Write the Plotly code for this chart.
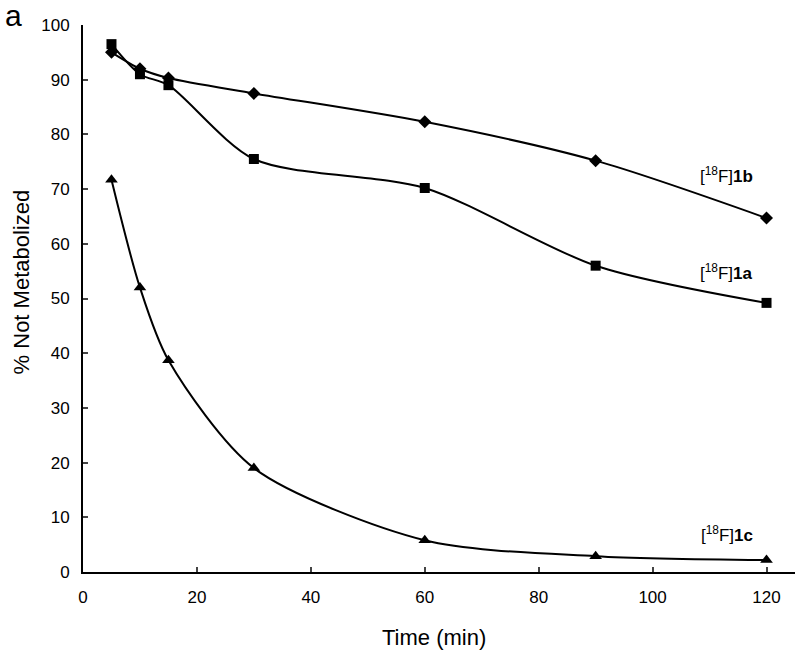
import plotly.graph_objects as go

time = [5, 10, 15, 30, 60, 90, 120]
f1b = [95.0, 92.0, 90.3, 87.5, 82.3, 75.2, 64.7]
f1a = [96.5, 91.0, 89.0, 75.5, 70.2, 56.0, 49.2]
f1c = [71.7, 52.0, 38.7, 19.0, 5.8, 2.9, 2.2]

x_ticks = [0, 20, 40, 60, 80, 100, 120]
y_ticks = [0, 10, 20, 30, 40, 50, 60, 70, 80, 90, 100]

font_family = "Liberation Sans, Arial, sans-serif"

fig = go.Figure()
series = [
    ("[<sup>18</sup>F]<b>1b</b>", f1b, "diamond", 10),
    ("[<sup>18</sup>F]<b>1a</b>", f1a, "square", 10),
    ("[<sup>18</sup>F]<b>1c</b>", f1c, "triangle-up", 11),
]
for name, ys, sym, sz in series:
    fig.add_trace(go.Scatter(
        x=time, y=ys, mode="lines+markers", name=name,
        line=dict(color="black", width=2, shape="spline", smoothing=0.8),
        marker=dict(symbol=sym, size=sz, color="black"),
        showlegend=False,
    ))

labels = [("[<sup>18</sup>F]<b>1b</b>", 72.5), ("[<sup>18</sup>F]<b>1a</b>", 54.8), ("[<sup>18</sup>F]<b>1c</b>", 7.0)]
for txt, yv in labels:
    fig.add_annotation(x=113, y=yv, text=txt, showarrow=False,
                       font=dict(family=font_family, size=17, color="black"))

# panel letter
fig.add_annotation(x=-0.112, y=1.018, xref="paper", yref="paper", xanchor="left", yanchor="middle",
                   text="a", showarrow=False,
                   font=dict(family=font_family, size=30, color="black"))
# axis titles
fig.add_annotation(x=-0.0866, y=0.53, xref="paper", yref="paper", textangle=-90,
                   xanchor="center", yanchor="middle",
                   text="% Not Metabolized", showarrow=False,
                   font=dict(family=font_family, size=22, color="black"))
fig.add_annotation(x=0.493, y=-0.119, xref="paper", yref="paper",
                   xanchor="center", yanchor="middle",
                   text="Time (min)", showarrow=False,
                   font=dict(family=font_family, size=22, color="black"))

fig.update_layout(
    width=800, height=653,
    margin=dict(l=83, r=5, t=25, b=81),
    plot_bgcolor="white", paper_bgcolor="white",
    font=dict(family=font_family, size=17, color="black"),
    hovermode=False,
    xaxis=dict(range=[0, 125], tickvals=x_ticks, ticks="inside", ticklen=5, tickwidth=1.5,
               showline=True, linecolor="black", linewidth=2, showgrid=False, zeroline=False,
               automargin=False, ticklabelstandoff=9, tickfont=dict(size=17)),
    yaxis=dict(range=[0, 100], tickvals=y_ticks, ticks="inside", ticklen=5, tickwidth=1.5,
               showline=True, linecolor="black", linewidth=2, showgrid=False, zeroline=False,
               automargin=False, ticklabelstandoff=8, tickfont=dict(size=17)),
)

fig.write_html("out.html", config={"displayModeBar": False},
               post_script="document.body.style.margin='0';document.body.style.overflow='hidden';")
